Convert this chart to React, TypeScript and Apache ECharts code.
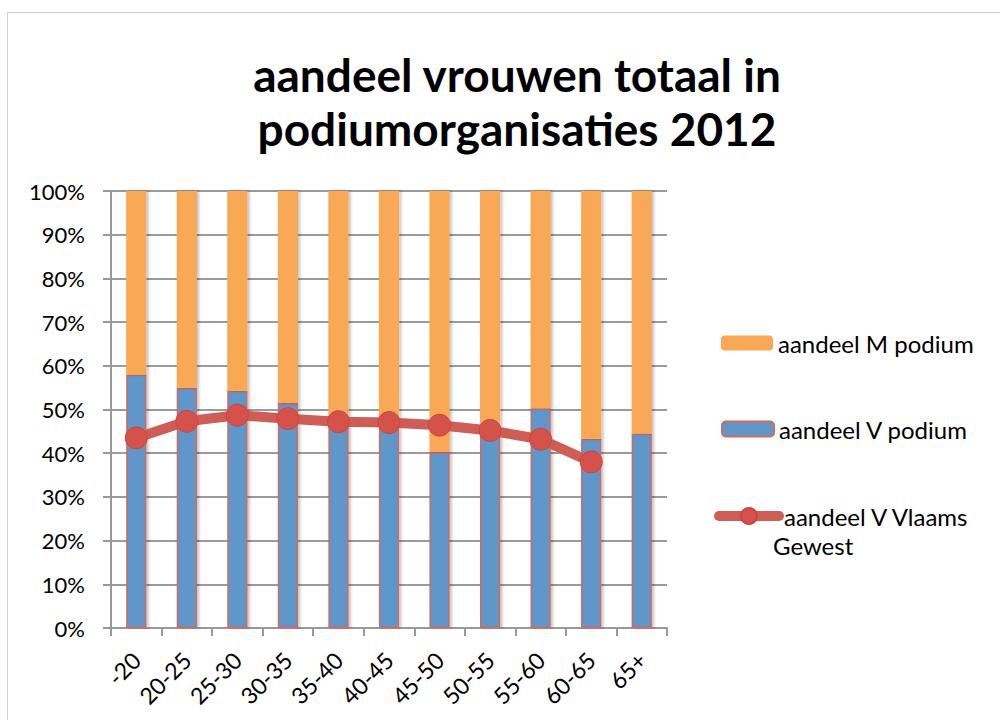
import React, { useEffect, useRef } from "react";
import * as echarts from "echarts";

const categories = ["-20", "20-25", "25-30", "30-35", "35-40", "40-45", "45-50", "50-55", "55-60", "60-65", "65+"];
const vPodium = [58, 55, 54.3, 51.5, 47, 46.5, 40.3, 44, 50.3, 43.3, 44.5];
const mPodium = vPodium.map((v) => +(100 - v).toFixed(1));
const vVlaams: (number | string)[] = [43.5, 47.3, 48.7, 47.9, 47.2, 47, 46.4, 45.2, 43.2, 38, "-"];
const yTicks = { min: 0, max: 100, interval: 10 };

const FONT = "Lato, 'Open Sans', sans-serif";

export default function App() {
  const ref = useRef<HTMLDivElement>(null);
  useEffect(() => {
    if (!ref.current) return;
    const chart = echarts.init(ref.current, null, { renderer: "svg" });
    chart.setOption({
      animation: false,
      backgroundColor: "#ffffff",
      textStyle: { fontFamily: FONT },
      title: {
        text: "aandeel vrouwen totaal in\npodiumorganisaties 2012",
        left: 512,
        textAlign: "center",
        top: 42,
        textStyle: { fontFamily: FONT, fontSize: 46, fontWeight: "bold", color: "#000", lineHeight: 54 },
      },
      graphic: [
        {
          type: "rect",
          shape: { x: 7.5, y: 12.5, width: 1100, height: 800 },
          style: { fill: "none", stroke: "#d0d0d0", lineWidth: 1 },
          silent: true,
        },
        {
          type: "text",
          left: 773,
          top: 533,
          style: { text: "Gewest", font: `24px ${FONT}`, fill: "#000" },
        },
      ],
      grid: { left: 111, right: 333, top: 191, bottom: 92, containLabel: false },
      legend: [
        {
          data: ["aandeel M podium"],
          left: 716,
          top: 326,
          itemWidth: 52,
          itemHeight: 15,
          textStyle: { fontFamily: FONT, fontSize: 24, color: "#000" },
        },
        {
          data: ["aandeel V podium"],
          left: 716,
          top: 412,
          itemWidth: 52,
          itemHeight: 15,
          textStyle: { fontFamily: FONT, fontSize: 24, color: "#000" },
        },
        {
          data: ["aandeel V Vlaams Gewest"],
          left: 709,
          top: 499,
          itemWidth: 60,
          itemHeight: 20,
          formatter: () => "aandeel V Vlaams",
          lineStyle: { width: 10, color: "#cd5d55", cap: "round" },
          textStyle: { fontFamily: FONT, fontSize: 24, color: "#000" },
        },
      ],
      xAxis: {
        type: "category",
        data: categories,
        boundaryGap: true,
        axisLine: { lineStyle: { color: "#999", width: 2 } },
        axisTick: { show: true, length: 8, interval: 0, lineStyle: { color: "#999", width: 2 } },
        axisLabel: { rotate: 45, fontSize: 23, color: "#000", fontFamily: FONT, margin: 28, interval: 0 },
      },
      yAxis: {
        type: "value",
        min: yTicks.min,
        max: yTicks.max,
        interval: yTicks.interval,
        axisLine: { show: true, lineStyle: { color: "#999", width: 2 } },
        axisTick: { show: true, length: 8, lineStyle: { color: "#999", width: 2 } },
        splitLine: { show: true, lineStyle: { color: "#9a9a9a", width: 2 } },
        axisLabel: { formatter: "{value}%", fontSize: 22, color: "#000", fontFamily: FONT, margin: 26 },
      },
      series: [
        {
          name: "aandeel V podium",
          type: "bar",
          stack: "total",
          barWidth: "40%",
          data: vPodium,
          itemStyle: {
            color: "#6097cb",
            borderColor: "#d06a62",
            borderWidth: 1.5,
            shadowColor: "rgba(0,0,0,0.25)",
            shadowBlur: 3,
            shadowOffsetX: 2,
          },
          z: 2,
        },
        {
          name: "aandeel M podium",
          type: "bar",
          stack: "total",
          barWidth: "40%",
          data: mPodium,
          itemStyle: {
            color: "#f9a857",
            shadowColor: "rgba(0,0,0,0.25)",
            shadowBlur: 3,
            shadowOffsetX: 2,
          },
          z: 2,
        },
        {
          name: "aandeel V Vlaams Gewest",
          type: "line",
          data: vVlaams,
          symbol: "circle",
          symbolSize: 22,
          lineStyle: { color: "#cd5d55", width: 10 },
          itemStyle: { color: "#d4524a", borderColor: "#c9463f", borderWidth: 1 },
          z: 5,
        },
      ],
    });
    return () => chart.dispose();
  }, []);
  return <div ref={ref} style={{ width: 1000, height: 720, position: "absolute", left: 0, top: 0 }} />;
}
